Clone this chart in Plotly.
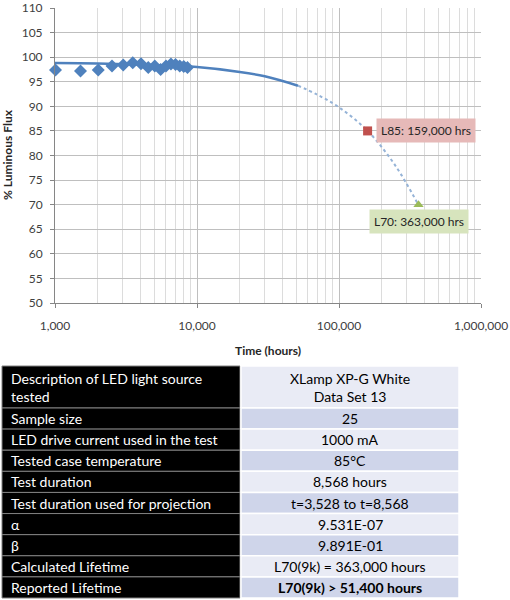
import math
import plotly.graph_objects as go

# measured lumen maintenance (hours, % flux)
hours = [1008, 1512, 2016, 2520, 3024, 3528, 4032, 4536, 5040, 5544,
         6048, 6552, 7056, 7560, 8064, 8568]
flux = [97.4, 97.2, 97.4, 98.2, 98.4, 98.85, 98.65, 97.9, 98.2, 97.5,
        98.2, 98.6, 98.5, 98.2, 98.1, 97.9]

# fitted curve (solid part, then projection)
fit_hours = [1000, 2000, 5000, 10000, 20000, 30000, 51400]
fit_flux = [98.8, 98.7, 98.4, 98.0, 97.0, 96.1, 94.2]
proj_hours = [51400, 70000, 100000, 159000, 250000, 363000]
proj_flux = [94.2, 92.4, 89.8, 85.0, 77.9, 69.9]

l85 = (159000, 85)
l70 = (363000, 70)

x_ticks = [1000, 10000, 100000, 1000000]
x_tick_text = ["1,000", "10,000", "100,000", "1,000,000"]

row_labels = ["Description of LED light source<br>tested", "Sample size",
              "LED drive current used in the test",
              "Tested case temperature", "Test duration",
              "Test duration used for projection", "α", "β",
              "Calculated Lifetime", "Reported Lifetime"]
row_values = ["XLamp XP-G White<br>Data Set 13", "25", "1000 mA", "85°C",
              "8,568 hours", "t=3,528 to t=8,568",
              "9.531E-07", "9.891E-01", "L70(9k) = 363,000 hours",
              "<b>L70(9k) > 51,400 hours</b>"]

FONT = "Lato"
blue = "#4F81BD"
W, H = 510, 600


def px(x):
    return x / W


def py(y):
    return 1 - y / H


fig = go.Figure()

fig.add_trace(go.Scatter(x=fit_hours, y=fit_flux, mode="lines",
                         line=dict(color=blue, width=2.5, shape="spline"),
                         showlegend=False, hoverinfo="skip"))
fig.add_trace(go.Scatter(x=proj_hours, y=proj_flux, mode="lines",
                         line=dict(color="#95B3D7", width=2, dash="dot", shape="spline"),
                         showlegend=False, hoverinfo="skip"))
fig.add_trace(go.Scatter(x=hours, y=flux, mode="markers", cliponaxis=False,
                         marker=dict(symbol="diamond", size=10, color=blue),
                         showlegend=False))
fig.add_trace(go.Scatter(x=[l85[0]], y=[l85[1]], mode="markers",
                         marker=dict(symbol="square", size=9, color="#C0504D"),
                         showlegend=False))
fig.add_trace(go.Scatter(x=[l70[0]], y=[l70[1]], mode="markers",
                         marker=dict(symbol="triangle-up", size=9, color="#9BBB59"),
                         showlegend=False))

# log axis: annotation x is given in log10 units
fig.add_annotation(x=math.log10(l85[0]), y=l85[1], xref="x", yref="y", showarrow=False,
                   text="L85: 159,000 hrs", xanchor="left", xshift=8,
                   bgcolor="#E6B9B8", borderpad=4,
                   font=dict(family=FONT, size=12, color="#262626"))
fig.add_annotation(x=math.log10(l70[0]), y=l70[1], xref="x", yref="y", showarrow=False,
                   text="L70: 363,000 hrs", yanchor="top", yshift=-4,
                   bgcolor="#D7E4BD", borderpad=4,
                   font=dict(family=FONT, size=12, color="#262626"))

# axis titles
fig.add_annotation(x=px(268), y=py(350), xref="paper", yref="paper",
                   showarrow=False, text="<b>Time (hours)</b>",
                   font=dict(family=FONT, size=12, color="#262626"))
fig.add_annotation(x=px(8), y=py(155), xref="paper", yref="paper",
                   xanchor="center", yanchor="middle",
                   showarrow=False, text="<b>% Luminous Flux</b>", textangle=-90,
                   font=dict(family=FONT, size=12, color="#262626"))

# table drawn as cells
col_left = (2, 240)
col_right = (241, 459)
row_edges = [366, 408]
for i in range(len(row_labels) - 1):
    row_edges.append(408 + (598 - 408) * (i + 1) / (len(row_labels) - 1))

for i, (lab, val) in enumerate(zip(row_labels, row_values)):
    y0, y1 = row_edges[i], row_edges[i + 1]
    fill_r = "#E9EBF5" if i % 2 == 0 else "#CFD5EA"
    fig.add_shape(type="rect", xref="paper", yref="paper",
                  x0=px(col_left[0]), x1=px(col_left[1]), y0=py(y1), y1=py(y0),
                  fillcolor="black", line=dict(color="#808080", width=1), layer="above")
    fig.add_shape(type="rect", xref="paper", yref="paper",
                  x0=px(col_right[0]), x1=px(col_right[1]), y0=py(y1), y1=py(y0),
                  fillcolor=fill_r, line=dict(color="white", width=1.5), layer="above")
    ym = (y0 + y1) / 2
    fig.add_annotation(x=px(col_left[0] + 7), y=py(ym), xref="paper", yref="paper",
                       xanchor="left", yanchor="middle", align="left", showarrow=False,
                       text=lab, font=dict(family=FONT, size=14, color="white"))
    fig.add_annotation(x=px((col_right[0] + col_right[1]) / 2), y=py(ym),
                       xref="paper", yref="paper",
                       xanchor="center", yanchor="middle", align="center", showarrow=False,
                       text=val, font=dict(family=FONT, size=14, color="black"))

fig.update_xaxes(type="log", range=[3, 6], domain=[px(55), px(481)], automargin=False,
                 tickvals=x_ticks, ticktext=x_tick_text, ticklabeloverflow="allow",
                 showgrid=True, gridcolor="#BFBFBF", gridwidth=1,
                 minor=dict(dtick="D1", showgrid=True, gridcolor="#DCDCDC", ticks=""),
                 showline=True, linecolor="#868686",
                 ticks="outside", ticklen=4, tickcolor="#868686",
                 ticklabelstandoff=8,
                 tickfont=dict(family=FONT, size=12, color="#404040"),
                 zeroline=False)
fig.update_yaxes(range=[50, 110], dtick=5, domain=[py(303), py(8)], automargin=False,
                 ticklabeloverflow="allow",
                 showgrid=True, gridcolor="#BFBFBF", gridwidth=1,
                 showline=True, linecolor="#868686",
                 ticks="outside", ticklen=4, tickcolor="#868686",
                 ticklabelstandoff=5,
                 tickfont=dict(family=FONT, size=12, color="#404040"),
                 zeroline=False)

fig.update_layout(width=W, height=H, margin=dict(l=0, r=0, t=0, b=0),
                  paper_bgcolor="white", plot_bgcolor="white",
                  font=dict(family=FONT))

# the page body has a default 8px margin; drop it so the figure fills the window
fig.write_html("out.html", config={"displayModeBar": False},
               post_script="document.body.style.margin='0px';")
